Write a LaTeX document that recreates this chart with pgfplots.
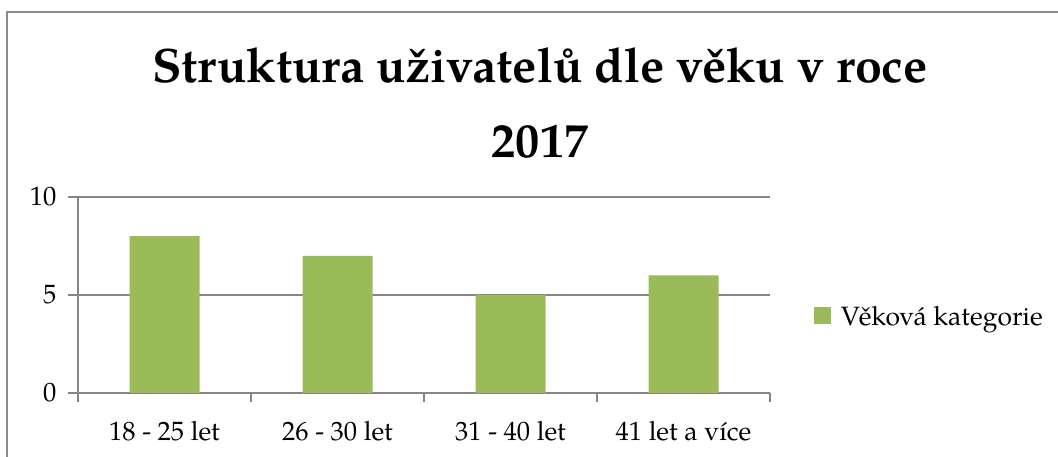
\documentclass[border=0pt]{standalone}
\usepackage{fontspec}
\setmainfont{TeX Gyre Pagella}
\usepackage{pgfplots}
\pgfplotsset{compat=1.18}
\definecolor{barg}{HTML}{9BBB59}
\definecolor{axg}{HTML}{868686}
\definecolor{frameg}{HTML}{8C8C8C}
\begin{document}
\begin{tikzpicture}[x=1bp,y=1bp]
\useasboundingbox (0,0) rectangle (1058,457);
\draw[frameg, line width=2bp] (6.5,-20) -- (6.5,445) -- (1080,445);
\node[font=\fontsize{48.3bp}{58bp}\selectfont\bfseries, anchor=base] at (540,374) {Struktura uživatelů dle věku v roce};
\node[font=\fontsize{48.3bp}{58bp}\selectfont\bfseries, anchor=base] at (540,299) {2017};
\begin{axis}[
  at={(78bp,64bp)}, anchor=south west,
  scale only axis, width=692bp, height=196bp,
  xmin=-0.5, xmax=3.5, ymin=0, ymax=10,
  axis x line*=bottom, axis y line*=left,
  axis line style={axg, line width=1.3bp, -},
  ybar, bar width=70bp,
  xtick={0,1,2,3},
  xticklabels={18 - 25 let, 26 - 30 let, 31 - 40 let, 41 let a více},
  minor xtick={-0.5,0.5,1.5,2.5,3.5},
  major x tick style={draw=none},
  minor x tick style={axg, line width=1.3bp},
  ytick={0,5,10},
  y tick style={axg, line width=1.3bp},
  tick align=outside,
  major tick length=10bp, minor tick length=9bp,
  ymajorgrids, grid style={axg, line width=1.3bp},
  ticklabel style={font=\fontsize{26.5bp}{31bp}\selectfont},
  /pgf/number format/assume math mode=true,
  yticklabel style={anchor=east, xshift=-8bp},
  xticklabel style={anchor=base, yshift=-38bp},
  legend style={draw=none, fill=none, at={(1.063,0.395)}, anchor=west, inner sep=0pt,
    font=\fontsize{26.5bp}{31bp}\selectfont,
    nodes={inner sep=0pt, text depth=0pt}},
  legend image code/.code={\fill[barg] (0bp,-8.5bp) rectangle (17bp,8.5bp);},
  /tikz/every even column/.append style={column sep=0bp},
  clip=false,
]
\addplot[fill=barg, draw=none] coordinates {(0,8) (1,7) (2,5) (3,6)};
\addlegendentry{\hspace{10bp}Věková kategorie}
\end{axis}
\end{tikzpicture}
\end{document}
